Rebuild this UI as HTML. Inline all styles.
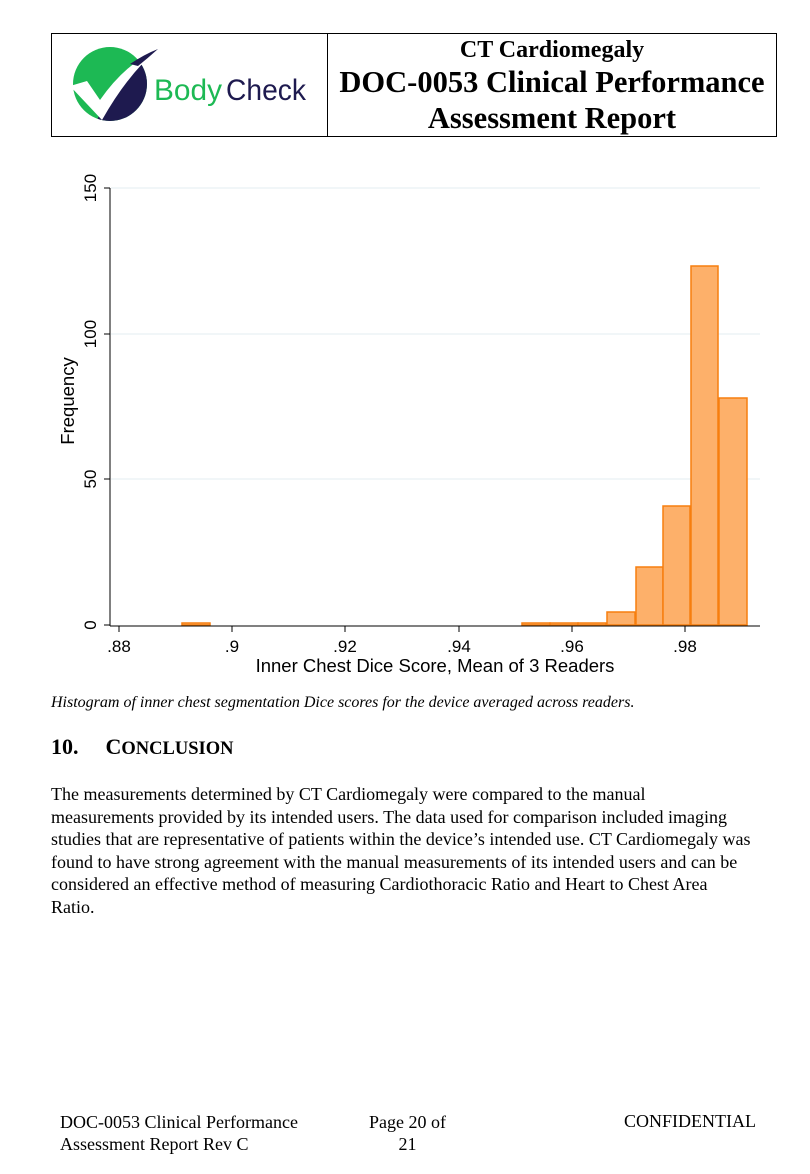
<!DOCTYPE html>
<html><head><meta charset="utf-8"><style>
body{margin:0;background:#fff;width:810px;height:1174px;position:relative;font-family:"Liberation Serif",serif;color:#000}
.hdr{position:absolute;left:51px;top:33px;width:726px;height:104px;border:1px solid #000;box-sizing:border-box}
.hdr .div{position:absolute;left:275px;top:0;bottom:0;border-left:1px solid #000}
.t{position:absolute;left:276px;right:0;text-align:center;font-weight:bold;white-space:nowrap}
p{margin:0}
</style></head><body>
<div class="hdr"><div class="div"></div>
<svg style="position:absolute;left:18px;top:10px" width="245" height="85">
<clipPath id="c"><circle cx="40" cy="40" r="37"/></clipPath>
<g clip-path="url(#c)">
<rect x="0" y="0" width="80" height="80" fill="#1db954"/>
<path d="M85 0 L85 85 L22 85 Q45 40 80 0 Z" fill="#1e1a4f"/>
</g>
<path d="M0 42 L17 37 L30 56 Q55 20 88 5 Q58 30 32 76 Z" fill="#fff"/>
<path d="M60 20 Q75 10 88 5 Q78 14 68 22 Z" fill="#1e1a4f"/>
<text x="84" y="56" font-family="Liberation Sans,sans-serif" font-size="30" fill="#1db954" textLength="68" lengthAdjust="spacingAndGlyphs">Body</text>
<text x="156" y="56" font-family="Liberation Sans,sans-serif" font-size="30" fill="#1e1a4f" textLength="80" lengthAdjust="spacingAndGlyphs">Check</text>
</svg>
<div class="t" style="top:3px;font-size:24px">CT Cardiomegaly</div>
<div class="t" style="top:30px;font-size:30.5px;line-height:36px">DOC-0053 Clinical Performance<br>Assessment Report</div>
</div>
<svg style="position:absolute;left:0;top:160px" width="810" height="530" font-family="Liberation Sans,sans-serif">
<g transform="translate(0,-160)">
<g stroke="#e3eef2" stroke-width="1"><line x1="111" x2="760" y1="188" y2="188"/><line x1="111" x2="760" y1="334" y2="334"/><line x1="111" x2="760" y1="479" y2="479"/></g>
<g fill="#fdb06a" stroke="#f77f0f" stroke-width="1.5">
<rect x="182" y="623" width="28" height="2"/>
<rect x="522" y="623" width="28" height="2"/><rect x="550" y="623" width="28" height="2"/><rect x="578" y="623" width="28" height="2"/>
<rect x="607" y="612" width="28" height="13"/>
<rect x="636" y="567" width="27" height="58"/>
<rect x="663" y="506" width="27" height="119"/>
<rect x="691" y="266" width="27" height="359"/>
<rect x="719" y="398" width="28" height="227"/>
</g>
<g stroke="#000" stroke-width="1"><line x1="110" x2="110" y1="188" y2="626"/><line x1="110" x2="760" y1="626" y2="626"/>
<line x1="104" x2="110" y1="188" y2="188"/><line x1="104" x2="110" y1="334" y2="334"/><line x1="104" x2="110" y1="479" y2="479"/><line x1="104" x2="110" y1="625" y2="625"/>
<line x1="119" x2="119" y1="626" y2="632"/><line x1="232" x2="232" y1="626" y2="632"/><line x1="345" x2="345" y1="626" y2="632"/><line x1="459" x2="459" y1="626" y2="632"/><line x1="572" x2="572" y1="626" y2="632"/><line x1="685" x2="685" y1="626" y2="632"/></g>
<g font-size="17" text-anchor="middle">
<text x="119" y="652">.88</text><text x="232" y="652">.9</text><text x="345" y="652">.92</text><text x="459" y="652">.94</text><text x="572" y="652">.96</text><text x="685" y="652">.98</text>
<text x="435" y="672" font-size="18.5">Inner Chest Dice Score, Mean of 3 Readers</text>
<text transform="translate(96,188) rotate(-90)">150</text><text transform="translate(96,334) rotate(-90)">100</text><text transform="translate(96,479) rotate(-90)">50</text><text transform="translate(96,625) rotate(-90)">0</text>
<text transform="translate(74,401) rotate(-90)" font-size="18.5">Frequency</text>
</g></g></svg>
<p style="position:absolute;left:51px;top:694px;font-size:16px;font-style:italic;white-space:nowrap">Histogram of inner chest segmentation Dice scores for the device averaged across readers.</p>
<p style="position:absolute;left:51px;top:734px;font-size:22px;font-weight:bold;white-space:nowrap">10.<span style="display:inline-block;width:27px"></span>C<span style="font-size:18.5px">ONCLUSION</span></p>
<p style="position:absolute;left:51px;top:783px;font-size:18px;line-height:22.5px;white-space:nowrap">The measurements determined by CT Cardiomegaly were compared to the manual<br>measurements provided by its intended users. The data used for comparison included imaging<br>studies that are representative of patients within the device’s intended use. CT Cardiomegaly was<br>found to have strong agreement with the manual measurements of its intended users and can be<br>considered an effective method of measuring Cardiothoracic Ratio and Heart to Chest Area<br>Ratio.</p>
<p style="position:absolute;left:60px;top:1111px;font-size:18px;line-height:22px;white-space:nowrap">DOC-0053 Clinical Performance<br>Assessment Report Rev C</p>
<p style="position:absolute;left:369px;top:1111px;font-size:18px;line-height:22px;text-align:center;white-space:nowrap">Page 20 of<br>21</p>
<p style="position:absolute;left:624px;top:1111px;font-size:18px;white-space:nowrap">CONFIDENTIAL</p>
</body></html>
